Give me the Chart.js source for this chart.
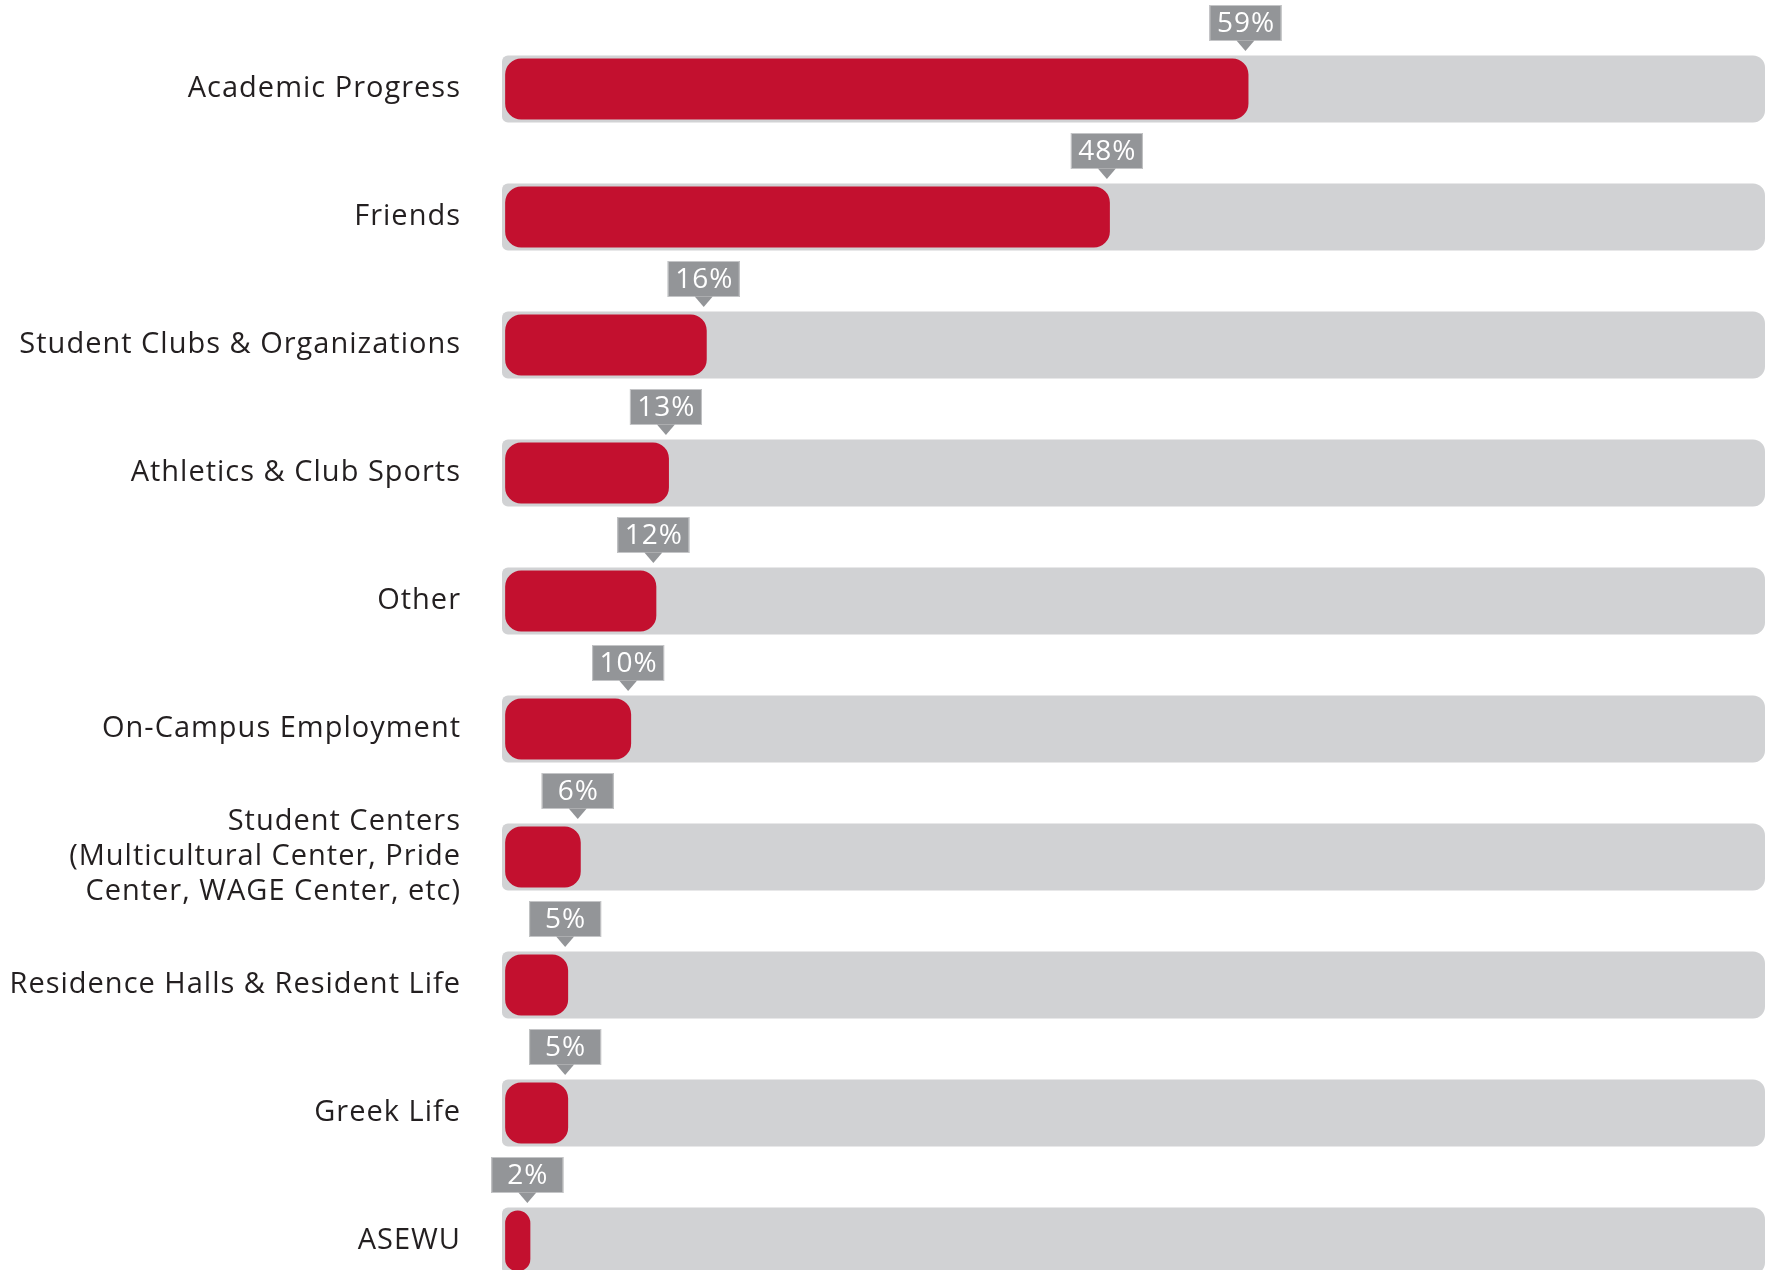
<!DOCTYPE html>
<html>
<head>
<meta charset="utf-8">
<script src="https://cdn.jsdelivr.net/npm/chart.js@4.4.1/dist/chart.umd.min.js"></script>
<style>
  html, body { margin: 0; padding: 0; background: #ffffff; width: 1765px; height: 1270px; overflow: hidden; }
  #c { display: block; }
</style>
</head>
<body>
<canvas id="c" width="1765" height="1305" style="width:1765px;height:1305px"></canvas>
<script>
const categories = [
  "Academic Progress",
  "Friends",
  "Student Clubs & Organizations",
  "Athletics & Club Sports",
  "Other",
  "On-Campus Employment",
  ["Student Centers", "(Multicultural Center, Pride", "Center, WAGE Center, etc)"],
  "Residence Halls & Resident Life",
  "Greek Life",
  "ASEWU"
];
const percentValues = [59, 48, 16, 13, 12, 10, 6, 5, 5, 2];
const trackValues = [100, 100, 100, 100, 100, 100, 100, 100, 100, 100];
const calloutLabels = ["59%", "48%", "16%", "13%", "12%", "10%", "6%", "5%", "5%", "2%"];

const FONT = "'Open Sans', Lato, sans-serif";

const spacingPlugin = {
  id: 'spacing',
  beforeUpdate(chart) { chart.ctx.letterSpacing = '1px'; },
  beforeDraw(chart) { chart.ctx.letterSpacing = '1px'; }
};

const calloutPlugin = {
  id: 'callouts',
  afterDatasetsDraw(chart) {
    const ctx = chart.ctx;
    const redMeta = chart.getDatasetMeta(0);
    const trackMeta = chart.getDatasetMeta(1);
    ctx.save();
    redMeta.data.forEach((el, i) => {
      const tr = trackMeta.data[i];
      const cy = tr.y;
      const px = el.x - 3;
      const boxW = 72, boxH = 36;
      const bottom = cy - 48;
      const top = bottom - boxH;
      const left = px - boxW / 2;
      ctx.fillStyle = '#939598';
      ctx.fillRect(left, top, boxW, boxH);
      ctx.strokeStyle = '#c4c5c7';
      ctx.lineWidth = 1;
      ctx.strokeRect(left + 0.5, top + 0.5, boxW - 1, boxH - 1);
      ctx.fillStyle = '#939598';
      ctx.beginPath();
      ctx.moveTo(px - 9, bottom - 0.5);
      ctx.lineTo(px + 9, bottom - 0.5);
      ctx.lineTo(px, bottom + 10);
      ctx.closePath();
      ctx.fill();
      ctx.fillStyle = '#ffffff';
      ctx.font = "28px " + FONT;
      ctx.letterSpacing = '1px';
      ctx.textAlign = 'center';
      ctx.textBaseline = 'middle';
      ctx.fillText(calloutLabels[i], px + 0.5, top + boxH / 2 + 1);
    });
    ctx.restore();
  }
};

new Chart(document.getElementById('c'), {
  type: 'bar',
  data: {
    labels: categories,
    datasets: [
      {
        label: 'Percent',
        data: percentValues,
        backgroundColor: '#c3102f',
        borderRadius: 16,
        borderSkipped: false,
        grouped: false,
        order: 0,
        categoryPercentage: 1,
        barPercentage: 0.477
      },
      {
        label: 'Track',
        data: trackValues,
        backgroundColor: '#d1d2d4',
        borderRadius: { topLeft: 6, bottomLeft: 6, topRight: 12, bottomRight: 12 },
        borderSkipped: false,
        grouped: false,
        order: 1,
        base: -0.25,
        categoryPercentage: 1,
        barPercentage: 0.523
      }
    ]
  },
  options: {
    indexAxis: 'y',
    responsive: false,
    maintainAspectRatio: false,
    devicePixelRatio: 1,
    animation: false,
    layout: { padding: { top: 25, bottom: 0, left: 0, right: 0 } },
    plugins: {
      legend: { display: false },
      tooltip: { enabled: false },
      title: { display: false }
    },
    scales: {
      x: {
        display: false,
        min: -0.25,
        max: 100
      },
      y: {
        grid: { display: false, drawTicks: false },
        border: { display: false },
        afterFit(scale) {
          scale.width = 502;
          scale.paddingTop = 0;
          scale.paddingBottom = 0;
        },
        ticks: {
          padding: 41,
          color: '#231f20',
          font: { family: FONT, size: 29, lineHeight: 1.2 }
        }
      }
    }
  },
  plugins: [spacingPlugin, calloutPlugin]
});
</script>
</body>
</html>
